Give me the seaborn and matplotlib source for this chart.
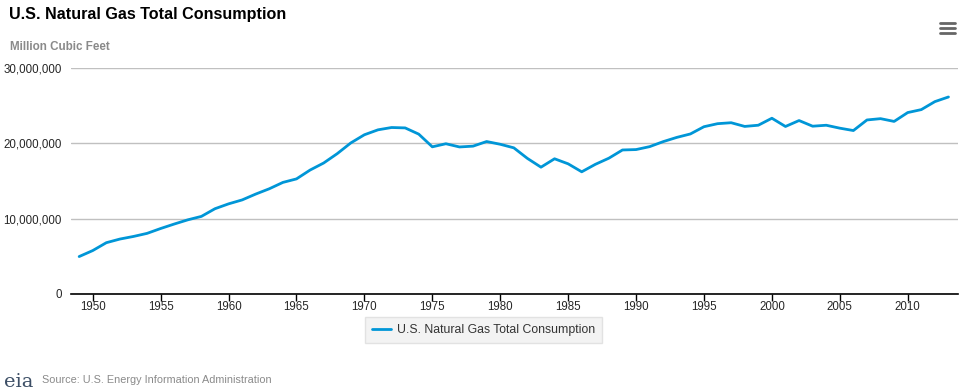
import pandas as pd
import matplotlib.pyplot as plt
import seaborn as sns
from matplotlib.lines import Line2D
from matplotlib.ticker import FuncFormatter

# Annual U.S. natural gas total consumption (million cubic feet)
years = list(range(1949, 2014))
consumption = [
    4971152, 5766542, 6810162, 7294320, 7639694, 8048515, 8693657, 9288147,
    9846652, 10302618, 11321181, 11966537, 12489268, 13266513, 13970229,
    14813808, 15279717, 16452403, 17388360, 18632062, 20056240, 21139386,
    21793454, 22101452, 22049363, 21223133, 19537593, 19946496, 19520581,
    19627478, 20240761, 19877293, 19403858, 18001055, 16834914, 17950527,
    17280564, 16221296, 17210809, 18030201, 19119213, 19173556, 19562067,
    20228228, 20789551, 21247132, 22207282, 22609311, 22737004, 22245975,
    22405014, 23333121, 22238624, 23027216, 22276502, 22402546, 22014357,
    21699071, 23103793, 23277008, 22910078, 24086797, 24477425, 25538487,
    26155071,
]
series_name = 'U.S. Natural Gas Total Consumption'
y_ticks = [0, 10000000, 20000000, 30000000]
x_ticks = list(range(1950, 2015, 5))

df = pd.DataFrame({'year': years, 'value': consumption})

sns.set_style('white')
plt.rcParams['font.family'] = ['Liberation Sans', 'DejaVu Sans']

fig = plt.figure(figsize=(9.7, 3.92), dpi=100)
ax = fig.add_axes([0.0732, 0.25, 0.9144, 0.5765])

blue = '#0096d7'
sns.lineplot(data=df, x='year', y='value', ax=ax, color=blue, linewidth=2)

ax.set_xlim(1948.4, 2013.7)
ax.set_ylim(0, 30000000)
ax.set_yticks(y_ticks)
ax.set_xticks(x_ticks)
ax.yaxis.set_major_formatter(FuncFormatter(lambda v, p: f'{int(v):,}'))
ax.grid(axis='y', color='#c0c0c0', linewidth=1)
ax.set_axisbelow(True)
for s in ['top', 'right', 'left']:
    ax.spines[s].set_visible(False)
ax.spines['bottom'].set_color('black')
ax.spines['bottom'].set_linewidth(1.2)
ax.tick_params(axis='x', direction='out', length=5, width=1, color='black',
               labelsize=8.3, pad=0, bottom=True)
ax.tick_params(axis='y', length=0, labelsize=8.3, pad=6.5)
ax.set_xlabel('')
ax.set_ylabel('')

# Legend
handle = Line2D([], [], color=blue, linewidth=2)
leg = ax.legend([handle], [series_name], loc='center', bbox_to_anchor=(0.465, -0.16),
                frameon=True, fontsize=8.8, handlelength=1.6, handletextpad=0.5,
                borderpad=0.55, fancybox=False)
leg.get_frame().set_facecolor('#f0f0f0')
leg.get_frame().set_edgecolor('#dddddd')
for t in leg.get_texts():
    t.set_color('#333333')

# Titles and source
fig.text(0.0095, 0.962, 'U.S. Natural Gas Total Consumption', fontsize=11.6,
         fontweight='bold', color='black', va='center')
fig.text(0.0103, 0.88, 'Million Cubic Feet', fontsize=8.4, fontweight='bold',
         color='#8a8a8a', va='center')
fig.text(0.0433, 0.031, 'Source: U.S. Energy Information Administration',
         fontsize=7.8, color='#8a8a8a', va='center')
fig.text(0.004, 0.025, 'eia', fontsize=14, family='DejaVu Serif',
         color='#3d4f66', va='center')

# Menu icon
for yy in [0.942, 0.929, 0.916]:
    fig.add_artist(Line2D([0.9695, 0.9845], [yy, yy], color='#666666',
                          linewidth=2, transform=fig.transFigure))

fig.savefig('out.png', dpi=100)
